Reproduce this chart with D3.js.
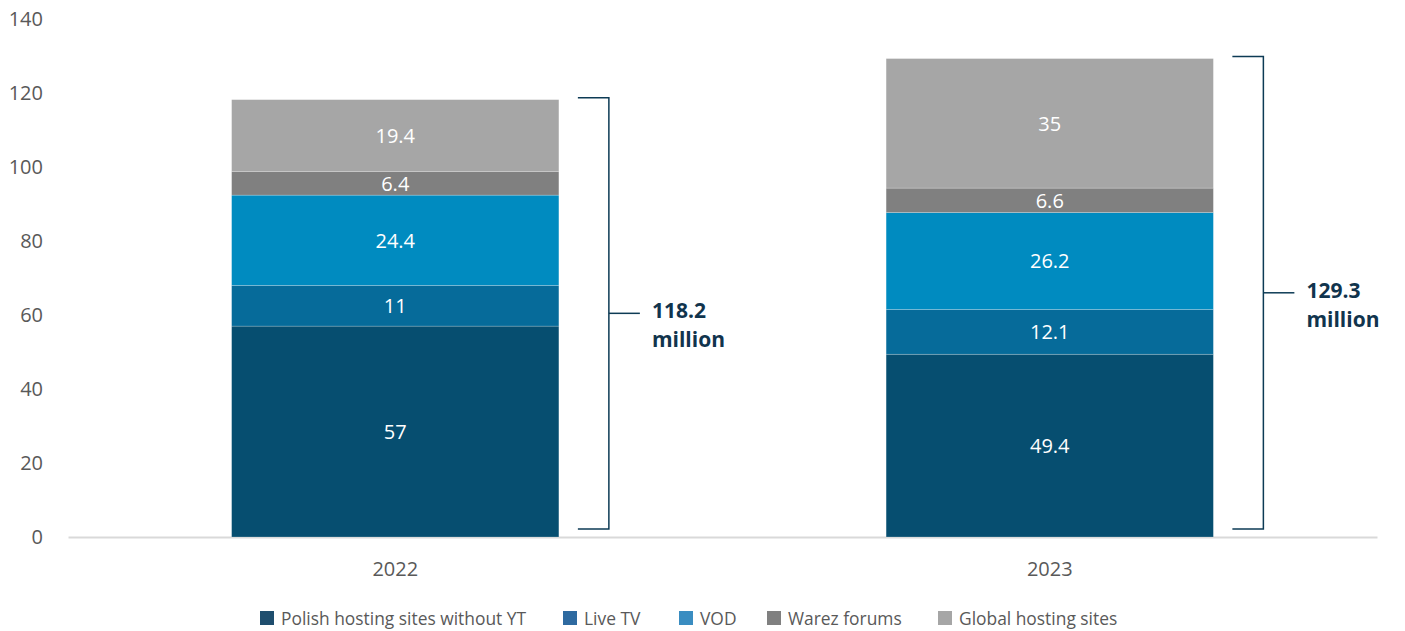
<!DOCTYPE html>
<html>
<head>
<meta charset="utf-8">
<script src="https://cdn.jsdelivr.net/npm/d3@7"></script>
<style>
  html, body { margin: 0; padding: 0; background: #ffffff; }
  svg { display: block; font-family: "Open Sans", sans-serif; }
</style>
</head>
<body>
<svg id="chart" width="1405" height="631"></svg>
<script>
// Years on the x axis
const years = ["2022", "2023"];
// Stack series, bottom to top
const seriesNames = ["Polish hosting sites without YT", "Live TV", "VOD", "Warez forums", "Global hosting sites"];
const polishHosting = [57, 49.4];
const liveTV = [11, 12.1];
const vod = [24.4, 26.2];
const warezForums = [6.4, 6.6];
const globalHosting = [19.4, 35];
// Totals written beside each bracket
const totals = [118.2, 129.3];
const totalLabels = ["118.2", "129.3"];
const totalUnit = "million";
// Y axis ticks
const yTicks = [0, 20, 40, 60, 80, 100, 120, 140];

const barColors = ["#064e70", "#066b9a", "#008bc0", "#808080", "#a6a6a6"];
const legendColors = ["#1f4e6e", "#2e6aa0", "#3a8dc1", "#808080", "#a6a6a6"];

const svg = d3.select("#chart");
const margin = { left: 68, right: 28, top: 19, bottom: 94 };
const W = 1405, H = 631;

const x = d3.scaleBand()
  .domain(years)
  .range([margin.left, W - margin.right])
  .paddingInner(0.5)
  .paddingOuter(0.25);

const y = d3.scaleLinear()
  .domain([0, 140])
  .range([H - margin.bottom, margin.top]);

// Table for the stack layout
const seriesArrays = [polishHosting, liveTV, vod, warezForums, globalHosting];
const table = years.map((yr, i) => {
  const row = { year: yr };
  seriesNames.forEach((s, k) => { row[s] = seriesArrays[k][i]; });
  return row;
});
const stacked = d3.stack().keys(seriesNames)(table);

// Y axis labels
const yAxis = d3.axisLeft(y).tickValues(yTicks).tickSize(0).tickPadding(25);
const gy = svg.append("g")
  .attr("transform", `translate(${margin.left},0)`)
  .call(yAxis);
gy.select(".domain").remove();
gy.selectAll("text")
  .attr("fill", "#595959")
  .style("font-size", "20px")
  .style("font-family", "'Open Sans', sans-serif");

// Baseline
const xAxis = d3.axisBottom(x).tickSize(0).tickPadding(25);
const gx = svg.append("g")
  .attr("transform", `translate(0,${y(0)})`)
  .call(xAxis);
gx.select(".domain").attr("stroke", "#d9d9d9").attr("stroke-width", 2);
gx.selectAll("text")
  .attr("fill", "#595959")
  .style("font-size", "20px")
  .style("font-family", "'Open Sans', sans-serif");

// Stacked bars
const layers = svg.append("g").selectAll("g")
  .data(stacked)
  .join("g")
  .attr("fill", (d, i) => barColors[i]);

layers.selectAll("rect")
  .data(d => d)
  .join("rect")
  .attr("x", d => x(d.data.year))
  .attr("width", x.bandwidth())
  .attr("y", d => y(d[1]))
  .attr("height", d => y(d[0]) - y(d[1]))
  .attr("stroke", "rgba(255,255,255,0.35)")
  .attr("stroke-width", 0.6);

// Segment value labels
layers.selectAll("text")
  .data(d => d.map(v => ({ v, key: d.key })))
  .join("text")
  .attr("x", d => x(d.v.data.year) + x.bandwidth() / 2)
  .attr("y", d => (y(d.v[0]) + y(d.v[1])) / 2)
  .attr("text-anchor", "middle")
  .attr("dominant-baseline", "central")
  .attr("fill", "#ffffff")
  .style("font-size", "20px")
  .text(d => d.v.data[d.key]);

// Brackets with totals
const bracketColor = "#0d3b55";
years.forEach((yr, i) => {
  const bx = x(yr) + x.bandwidth() + 50;
  const top = y(totals[i]) - 2;
  const bot = y(0) - 8;
  const mid = (top + bot) / 2;
  const g = svg.append("g").attr("stroke", bracketColor).attr("stroke-width", 1.5).attr("fill", "none");
  g.append("path").attr("d", `M${bx - 31},${top}H${bx}V${bot}H${bx - 31}`);
  g.append("line").attr("x1", bx).attr("x2", bx + 31).attr("y1", mid).attr("y2", mid);
  const lx = bx + 43;
  svg.append("text")
    .attr("x", lx)
    .attr("y", mid + 5)
    .attr("fill", "#11344d")
    .style("font-size", "21px")
    .style("font-weight", "700")
    .text(totalLabels[i]);
  svg.append("text")
    .attr("x", lx)
    .attr("y", mid + 34)
    .attr("fill", "#11344d")
    .style("font-size", "21px")
    .style("font-weight", "700")
    .text(totalUnit);
});

// Legend
const legendX = [260, 563, 679, 767, 938];
const legend = svg.append("g");
seriesNames.forEach((name, i) => {
  legend.append("rect")
    .attr("x", legendX[i]).attr("y", 611)
    .attr("width", 14).attr("height", 14)
    .attr("fill", legendColors[i]);
  legend.append("text")
    .attr("x", legendX[i] + 21).attr("y", 618)
    .attr("dominant-baseline", "central")
    .attr("fill", "#595959")
    .style("font-size", "17.4px")
    .text(name);
});
</script>
</body>
</html>
